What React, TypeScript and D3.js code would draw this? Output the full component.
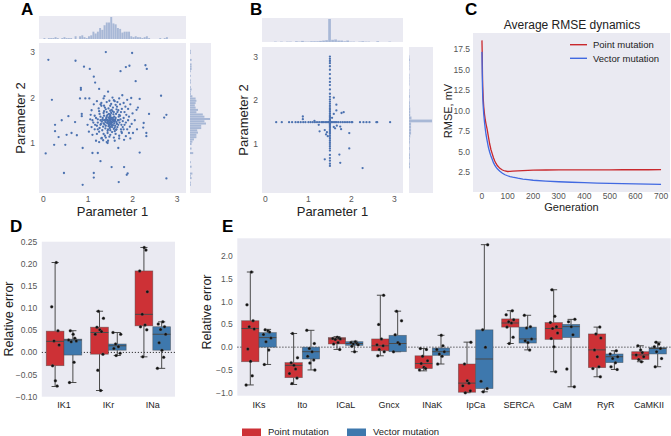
import React from 'react';
import * as d3 from 'd3';

const FONT = '"Liberation Sans", Arial, Helvetica, sans-serif';
const BG = '#EAEAF2';
const DOT = '#4c72b0';
const RED = '#cd3136';
const BLUE = '#3e78ad';
const EDGE = '#4a4a4a';
const TICK = '#555555';
const LBL = '#222222';
const LINE_RED = '#c9282d';
const LINE_BLUE = '#4169e1';

// ---------------- Panel A (vector mutation parameters) ----------------
const outliersA: [number, number][] = [
  [0.11, 2.83], [1.4, 3.0], [1.99, 2.98], [0.72, 2.81], [0.91, 2.68], [1.04, 2.63], [2.29, 2.71], [2.32, 2.63],
  [1.85, 2.67], [1.93, 2.7], [1.73, 2.58], [1.13, 2.46], [2.07, 2.36], [1.16, 2.33], [0.84, 2.21], [0.84, 2.17],
  [1.25, 2.19], [1.45, 2.13], [2.64, 2.04], [0.19, 1.95], [0.82, 1.98], [0.94, 1.98], [1.03, 1.98], [1.37, 2.03],
  [1.97, 1.99], [2.16, 1.97], [2.76, 1.62], [2.71, 1.56], [0.56, 1.59], [0.86, 1.64], [0.86, 1.59], [0.41, 1.5],
  [0.26, 1.4], [0.26, 1.26], [0.34, 1.13], [0.24, 0.96], [0.49, 0.96], [0.05, 0.77], [0.63, 1.22], [0.75, 1.17],
  [0.52, 1.18], [0.71, 1.46], [0.99, 1.4], [0.88, 0.89], [1.1, 0.78], [1.22, 0.78], [1.28, 0.6], [2.16, 0.79],
  [1.53, 0.47], [1.81, 0.47], [1.89, 0.33], [1.87, 0.3], [1.13, 0.34], [1.13, 0.24], [0.46, 0.34], [1.69, 0.14],
  [0.88, 0.08], [2.76, 0.22], [2.31, 1.22], [2.37, 1.64], [2.25, 1.44], [2.24, 1.34], [2.31, 1.15], [2.01, 1.22],
  [2.09, 1.73], [1.81, 1.07], [1.68, 0.89], [1.44, 1.0], [1.31, 1.11],
];
const coreA: [number, number][] = [
  [1.5, 1.5], [1.52, 1.47], [1.48, 1.53], [1.55, 1.45], [1.45, 1.49], [1.53, 1.56], [1.58, 1.51], [1.43, 1.44],
  [1.47, 1.41], [1.56, 1.39], [1.6, 1.47], [1.41, 1.55], [1.5, 1.6], [1.62, 1.55], [1.38, 1.5], [1.46, 1.37],
  [1.54, 1.35], [1.65, 1.42], [1.35, 1.43], [1.44, 1.62], [1.57, 1.63], [1.67, 1.5], [1.33, 1.55], [1.49, 1.33],
  [1.61, 1.38], [1.4, 1.38], [1.52, 1.66], [1.69, 1.58], [1.36, 1.6], [1.63, 1.64], [1.31, 1.47], [1.45, 1.3],
  [1.58, 1.31], [1.71, 1.45], [1.42, 1.68], [1.55, 1.7], [1.66, 1.35], [1.34, 1.36], [1.48, 1.45], [1.51, 1.42],
  [1.46, 1.56], [1.54, 1.52], [1.57, 1.48], [1.43, 1.51], [1.49, 1.58], [1.59, 1.43], [1.44, 1.46], [1.53, 1.39],
  [1.61, 1.52], [1.39, 1.46], [1.47, 1.49], [1.56, 1.55], [1.51, 1.53], [1.45, 1.43], [1.52, 1.44], [1.5, 1.46],
  [1.55, 1.5], [1.48, 1.39], [1.4, 1.52], [1.64, 1.46], [1.37, 1.41], [1.59, 1.58], [1.42, 1.59], [1.68, 1.4],
  [1.32, 1.51], [1.47, 1.64], [1.6, 1.34], [1.73, 1.52], [1.29, 1.42], [1.53, 1.73], [1.7, 1.62], [1.35, 1.66],
  [1.44, 1.27], [1.63, 1.29], [1.75, 1.4], [1.28, 1.58], [1.39, 1.32], [1.58, 1.68], [1.66, 1.68],
  [1.5, 1.36], [1.5, 1.62], [1.5, 1.44], [1.5, 1.71], [1.5, 1.28], [1.5, 1.55], [1.42, 1.5], [1.61, 1.5],
  [1.36, 1.5], [1.69, 1.5], [1.57, 1.5], [1.28, 1.5],
];
const haloA: [number, number][] = [
  [1.8, 1.55], [1.85, 1.45], [1.78, 1.35], [1.82, 1.68], [1.76, 1.75], [1.65, 1.8], [1.5, 1.82], [1.38, 1.78],
  [1.25, 1.7], [1.22, 1.52], [1.2, 1.38], [1.25, 1.25], [1.35, 1.2], [1.5, 1.18], [1.62, 1.2], [1.75, 1.25],
  [1.88, 1.3], [1.92, 1.58], [1.9, 1.75], [1.8, 1.88], [1.6, 1.92], [1.42, 1.9], [1.28, 1.85], [1.15, 1.6],
  [1.12, 1.45], [1.15, 1.3], [1.3, 1.1], [1.45, 1.05], [1.7, 1.1], [1.85, 1.15], [1.98, 1.42], [2.0, 1.65],
  [1.95, 1.85], [1.7, 1.98], [1.55, 2.0], [1.35, 1.98], [1.2, 1.92], [1.08, 1.72], [1.05, 1.52], [1.08, 1.35],
  [1.1, 1.18], [1.25, 1.02], [1.6, 1.05], [1.95, 1.1], [2.05, 1.5], [2.1, 1.3], [1.88, 1.95], [1.48, 1.93],
  [1.18, 1.05], [1.02, 1.25], [2.12, 1.78], [1.72, 1.85], [1.3, 1.82], [1.92, 1.22], [1.4, 1.12], [1.58, 1.12],
  [1.13, 1.85], [1.77, 2.05], [1.64, 1.74], [1.36, 1.7], [1.74, 1.3], [1.26, 1.33],
  [1.72, 1.6], [1.28, 1.4], [1.6, 1.26], [1.4, 1.74], [1.78, 1.48], [1.22, 1.45], [1.56, 1.78], [1.44, 1.22],
  [1.82, 1.4], [1.18, 1.55], [1.68, 1.72], [1.32, 1.28], [1.76, 1.22], [1.24, 1.76], [1.62, 1.84], [1.38, 1.16],
  [1.86, 1.62], [1.16, 1.4], [1.52, 1.86], [1.48, 1.14], [1.7, 1.16], [1.3, 1.88], [1.9, 1.5], [1.1, 1.5],
  [1.66, 1.9], [1.34, 1.06], [1.84, 1.8], [1.2, 1.2], [1.94, 1.36], [1.06, 1.62], [1.54, 1.24], [1.46, 1.76],
  [1.74, 1.68], [1.26, 1.64], [1.64, 1.3], [1.36, 1.82], [1.8, 1.3], [1.22, 1.3], [1.58, 1.94], [1.42, 1.02],
];

// ---------------- Panel B (point mutation parameters) ----------------
const offAxisB: [number, number][] = [
  [0.87, 1.57], [0.87, 1.63], [1.14, 1.53], [1.59, 2.06], [1.65, 1.9], [1.65, 1.77], [1.82, 1.73], [1.77, 1.71],
  [1.59, 1.69], [1.55, 1.6], [1.24, 1.44], [1.26, 1.29], [1.38, 1.32], [1.43, 1.27], [1.41, 1.22], [1.66, 1.42],
  [1.59, 1.39], [1.74, 1.4], [1.76, 1.34], [1.95, 1.25], [1.95, 0.9], [1.38, 0.65], [1.72, 0.76], [1.74, 0.57],
  [2.26, 0.45], [1.45, 1.18], [1.62, 1.36],
  [1.5, 1.5], [1.5, 1.5], [1.5, 1.5], [1.5, 1.5], [1.5, 1.5], [1.5, 1.5], [1.5, 1.5], [1.5, 1.5], [1.5, 1.5], [1.5, 1.5],
];
const horizXB = [
  0.25, 0.38, 0.55, 0.62, 0.7, 0.76, 0.82, 0.88, 0.93, 1.0, 1.05, 1.1, 1.15, 1.2, 1.25, 1.3, 1.33, 1.36, 1.4, 1.43,
  1.46, 1.48, 1.52, 1.54, 1.57, 1.6, 1.63, 1.66, 1.7, 1.75, 1.8, 1.85, 1.9, 1.95, 2.0, 2.02, 2.2, 2.28, 2.35, 2.42,
  2.58, 2.6, 2.9,
];
const vertYB = [
  3.0, 2.95, 2.9, 2.85, 2.78, 2.7, 2.6, 2.5, 2.42, 2.35, 2.25, 2.15, 2.08, 2.02, 1.97, 1.92, 1.87, 1.82, 1.78, 1.74,
  1.7, 1.66, 1.63, 1.6, 1.57, 1.55, 1.53, 1.47, 1.45, 1.43, 1.4, 1.37, 1.34, 1.3, 1.27, 1.24, 1.2, 1.16, 1.12, 1.08,
  1.04, 1.0, 0.95, 0.9, 0.85, 0.75, 0.68, 0.62, 0.55, 0.5,
];
const paramTicks = [0, 1, 2, 3];

// ---------------- Panel C (RMSE dynamics) ----------------
const generations = [0, 1, 2, 3, 5, 7, 10, 13, 16, 20, 25, 30, 35, 40, 45, 50, 55, 60, 70, 80, 90, 100, 110, 120, 140, 160, 180, 200, 250, 300, 350, 400, 450, 500, 550, 600, 650, 700];
const rmsePoint = [18.6, 17.0, 14.5, 13.0, 11.5, 10.5, 9.6, 8.9, 8.4, 7.8, 6.9, 6.0, 5.3, 4.8, 4.3, 3.9, 3.6, 3.35, 3.0, 2.8, 2.68, 2.62, 2.63, 2.66, 2.7, 2.73, 2.76, 2.78, 2.8, 2.81, 2.81, 2.82, 2.82, 2.82, 2.83, 2.83, 2.83, 2.84];
const rmseVector = [17.2, 15.0, 13.0, 11.8, 10.5, 9.6, 8.6, 7.8, 7.1, 6.4, 5.6, 5.0, 4.5, 4.1, 3.7, 3.4, 3.15, 2.95, 2.65, 2.4, 2.22, 2.1, 2.0, 1.92, 1.8, 1.7, 1.62, 1.55, 1.45, 1.37, 1.31, 1.26, 1.21, 1.17, 1.14, 1.11, 1.08, 1.06];
const rmseTicks = [2.5, 5, 7.5, 10, 12.5, 15, 17.5];
const genTicks = [0, 100, 200, 300, 400, 500, 600, 700];

// ---------------- Panel D ----------------
const catsD = ['IK1', 'IKr', 'INa'];
// [lower whisker, q1, median, q3, upper whisker]
const statsDPoint = [
  [-0.077, -0.03, 0.025, 0.048, 0.203],
  [-0.086, -0.004, 0.045, 0.057, 0.093],
  [-0.01, 0.06, 0.086, 0.184, 0.237],
];
const statsDVector = [
  [-0.068, -0.006, 0.028, 0.03, 0.049],
  [-0.007, 0.005, 0.015, 0.019, 0.045],
  [-0.036, 0.005, 0.041, 0.058, 0.069],
];
const ptsDPoint = [
  [0.203, 0.103, 0.049, 0.026, 0.017, -0.03, -0.064, -0.076],
  [0.093, 0.077, 0.057, 0.051, 0.047, 0.041, -0.004, -0.04, -0.086],
  [0.237, 0.231, 0.184, 0.137, 0.086, 0.062, 0.058, 0.051, -0.01],
];
const ptsDVector = [
  [0.049, 0.041, 0.032, 0.028, 0.026, 0.024, -0.022, -0.068],
  [0.045, 0.041, 0.019, 0.013, 0.009, -0.002, -0.007],
  [0.069, 0.064, 0.058, 0.052, 0.041, 0.022, 0.005, -0.011, -0.036],
];
const ticksD = [-0.1, -0.05, 0, 0.05, 0.1, 0.15, 0.2, 0.25];

// ---------------- Panel E ----------------
const catsE = ['IKs', 'Ito', 'ICaL', 'Gncx', 'INaK', 'IpCa', 'SERCA', 'CaM', 'RyR', 'CaMKII'];
const statsEPoint = [
  [-0.83, -0.32, 0.41, 0.58, 1.65],
  [-0.82, -0.67, -0.4, -0.34, 0.3],
  [-0.05, 0.07, 0.18, 0.21, 0.23],
  [-0.19, -0.08, 0.03, 0.18, 1.14],
  [-0.52, -0.47, -0.36, -0.19, -0.03],
  [-1.0, -0.99, -0.79, -0.37, 0.11],
  [0.08, 0.44, 0.53, 0.62, 0.8],
  [-0.54, 0.17, 0.41, 0.54, 1.26],
  [-0.65, -0.45, -0.06, 0.29, 0.44],
  [-0.32, -0.27, -0.17, -0.1, 0.03],
];
const statsEVector = [
  [-0.38, 0.0, 0.21, 0.32, 0.39],
  [-0.5, -0.26, -0.1, 0.0, 0.37],
  [-0.1, 0.04, 0.08, 0.12, 0.13],
  [-0.1, -0.1, 0.08, 0.26, 0.79],
  [-0.37, -0.18, -0.1, -0.02, 0.26],
  [-0.98, -0.91, -0.26, 0.38, 2.25],
  [-0.06, 0.09, 0.18, 0.44, 0.7],
  [-0.87, 0.21, 0.45, 0.5, 0.61],
  [-0.49, -0.34, -0.21, -0.15, -0.08],
  [-0.43, -0.15, -0.03, -0.01, 0.11],
];
const ptsEPoint = [
  [1.65, 0.93, 0.58, 0.45, 0.4, -0.04, -0.31, -0.63, -0.83],
  [0.3, -0.23, -0.34, -0.4, -0.48, -0.58, -0.68, -0.8],
  [0.22, 0.2, 0.19, 0.18, 0.17, 0.1, 0.07, -0.05],
  [1.14, 0.5, 0.18, 0.05, 0.03, -0.05, -0.1, -0.19],
  [-0.03, -0.05, -0.2, -0.3, -0.36, -0.44, -0.47, -0.5],
  [0.11, -0.37, -0.74, -0.79, -0.85, -0.96, -1.0],
  [0.8, 0.71, 0.6, 0.56, 0.53, 0.44, 0.22, 0.08],
  [1.26, 0.68, 0.54, 0.45, 0.41, 0.31, 0.19, 0.01, -0.54],
  [0.44, 0.29, 0.2, -0.06, -0.21, -0.43, -0.47, -0.65],
  [0.03, -0.06, -0.12, -0.17, -0.21, -0.27, -0.32],
];
const ptsEVector = [
  [0.38, 0.36, 0.33, 0.28, 0.2, 0.12, -0.06, -0.38],
  [0.37, 0.08, -0.03, -0.1, -0.2, -0.28, -0.35, -0.5],
  [0.12, 0.1, 0.08, 0.07, 0.05, 0.02, -0.1],
  [0.79, 0.58, 0.27, 0.1, 0.07, -0.1],
  [0.26, 0.03, -0.05, -0.1, -0.15, -0.2, -0.37],
  [2.25, 0.38, 0.0, -0.75, -0.91, -0.98],
  [0.7, 0.45, 0.42, 0.18, 0.14, 0.1, -0.06],
  [0.61, 0.56, 0.45, 0.27, -0.48, -0.87],
  [-0.08, -0.15, -0.21, -0.25, -0.34, -0.43, -0.49],
  [0.11, 0.07, 0.01, -0.03, -0.1, -0.25, -0.43],
];
const ticksE = [-1, -0.5, 0, 0.5, 1, 1.5, 2];
const legendLabels = ['Point mutation', 'Vector mutation'];

const JIT = [0.2, -0.6, 0.5, -0.2, 0.7, -0.45, 0.05, 0.35, -0.75, 0.6, -0.3];

type JointProps = {
  pts: [number, number][];
  L: number; R: number; T: number; B: number;
  topT: number; topB: number; rL: number; rR: number;
  xDom: [number, number]; yDom: [number, number]; step: number;
  letter: string; letterX: number;
};

function Joint(p: JointProps) {
  const x = d3.scaleLinear().domain(p.xDom).range([p.L, p.R]);
  const y = d3.scaleLinear().domain(p.yDom).range([p.B, p.T]);
  const bx = d3.bin().domain(p.xDom).thresholds(d3.range(p.xDom[0], p.xDom[1], p.step))(p.pts.map((d) => d[0]));
  const by = d3.bin().domain(p.yDom).thresholds(d3.range(p.yDom[0], p.yDom[1], p.step))(p.pts.map((d) => d[1]));
  const hx = d3.scaleLinear().domain([0, d3.max(bx, (b) => b.length) || 1]).range([p.topB, p.topT + 1]);
  const hy = d3.scaleLinear().domain([0, d3.max(by, (b) => b.length) || 1]).range([p.rL, p.rR - 1]);
  const cx = (p.L + p.R) / 2;
  const cy = (p.T + p.B) / 2;
  return (
    <g>
      <text x={p.letterX} y={15} fontSize={17} fontWeight="bold" fill="#000">{p.letter}</text>
      <rect x={p.L} y={p.topT} width={p.R - p.L} height={p.topB - p.topT} fill={BG} />
      <rect x={p.rL} y={p.T} width={p.rR - p.rL} height={p.B - p.T} fill={BG} />
      <rect x={p.L} y={p.T} width={p.R - p.L} height={p.B - p.T} fill={BG} />
      {bx.filter((b) => b.length > 0).map((b, i) => (
        <rect key={'bx' + i} x={x(b.x0!)} y={hx(b.length)} width={Math.max(0.5, x(b.x1!) - x(b.x0!) - 0.3)}
          height={p.topB - hx(b.length)} fill={DOT} fillOpacity={0.42} />
      ))}
      {by.filter((b) => b.length > 0).map((b, i) => (
        <rect key={'by' + i} x={p.rL} y={y(b.x1!)} height={Math.max(0.5, y(b.x0!) - y(b.x1!) - 0.3)}
          width={hy(b.length) - p.rL} fill={DOT} fillOpacity={0.42} />
      ))}
      {p.pts.map((d, i) => (
        <circle key={'p' + i} cx={x(d[0])} cy={y(d[1])} r={1.15} fill={DOT} />
      ))}
      {paramTicks.map((t) => (
        <text key={'xt' + t} x={x(t)} y={p.B + 8.5} fontSize={8.5} fill={TICK} textAnchor="middle">{t}</text>
      ))}
      {paramTicks.filter((t) => t > 0).map((t) => (
        <text key={'yt' + t} x={p.L - 4} y={y(t)} dy="0.35em" fontSize={8.5} fill={TICK} textAnchor="end">{t}</text>
      ))}
      <text x={cx} y={p.B + 23} fontSize={13} fill={LBL} textAnchor="middle">Parameter 1</text>
      <text transform={`translate(${p.L - 14},${cy}) rotate(-90)`} fontSize={13} fill={LBL} textAnchor="middle">Parameter 2</text>
    </g>
  );
}

function RmsePanel() {
  const L = 473, R = 670, T = 33, B = 192;
  const x = d3.scaleLinear().domain([-35, 735]).range([L, R]);
  const y = d3.scaleLinear().domain([0.12, 19.5]).range([B, T]);
  const line = d3.line<number>().x((_, i) => x(generations[i])).y((v) => y(v));
  const fmt = d3.format('.1f');
  return (
    <g>
      <text x={465} y={15} fontSize={17} fontWeight="bold" fill="#000">C</text>
      <text x={572} y={28.5} fontSize={12} fill={LBL} textAnchor="middle">Average RMSE dynamics</text>
      <rect x={L} y={T} width={R - L} height={B - T} fill={BG} />
      <path d={line(rmsePoint) || ''} fill="none" stroke={LINE_RED} strokeWidth={1.3} />
      <path d={line(rmseVector) || ''} fill="none" stroke={LINE_BLUE} strokeWidth={1.3} />
      {rmseTicks.map((t) => (
        <text key={'y' + t} x={L - 3} y={y(t)} dy="0.35em" fontSize={8.5} fill={TICK} textAnchor="end">{fmt(t)}</text>
      ))}
      {genTicks.map((t) => (
        <text key={'x' + t} x={x(t)} y={B + 7} fontSize={8.5} fill={TICK} textAnchor="middle">{t}</text>
      ))}
      <text x={(L + R) / 2} y={211} fontSize={11} fill={LBL} textAnchor="middle">Generation</text>
      <text transform={`translate(448,111) rotate(-90)`} dy="0.35em" fontSize={11} fill={LBL} textAnchor="middle">RMSE, mV</text>
      <line x1={570} x2={587} y1={44.7} y2={44.7} stroke={LINE_RED} strokeWidth={1.4} />
      <line x1={570} x2={587} y1={58.3} y2={58.3} stroke={LINE_BLUE} strokeWidth={1.4} />
      <text x={593} y={44.7} dy="0.35em" fontSize={9.5} fill={LBL}>{legendLabels[0]}</text>
      <text x={593} y={58.3} dy="0.35em" fontSize={9.5} fill={LBL}>{legendLabels[1]}</text>
    </g>
  );
}

type BoxProps = {
  cats: string[];
  stats: number[][][];
  pts: number[][][];
  L: number; R: number; T: number; B: number;
  yDom: [number, number];
  ticks: number[];
  fmt: string;
  labelX: number;
  labelY: number;
  letter: string; letterX: number;
};

function BoxPanel(p: BoxProps) {
  const x = d3.scaleBand<string>().domain(p.cats).range([p.L, p.R]).padding(0);
  const y = d3.scaleLinear().domain(p.yDom).range([p.B, p.T]);
  const w = x.bandwidth();
  const bw = w * 0.4;
  const f = d3.format(p.fmt);
  const colors = [RED, BLUE];
  return (
    <g>
      <text x={p.letterX} y={231.5} fontSize={17} fontWeight="bold" fill="#000">{p.letter}</text>
      <rect x={p.L} y={p.T} width={p.R - p.L} height={p.B - p.T} fill={BG} />
      <line x1={p.L} x2={p.R} y1={y(0)} y2={y(0)} stroke="#222" strokeWidth={0.9} strokeDasharray="1.2,1.8" />
      {p.cats.map((c, i) => (
        <g key={c}>
          {[0, 1].map((j) => {
            const [lo, q1, med, q3, hi] = p.stats[j][i];
            const x0 = (x(c) as number) + w * 0.1 + j * bw;
            const cxm = x0 + bw / 2;
            const capW = bw * 0.4;
            return (
              <g key={j}>
                <line x1={cxm} x2={cxm} y1={y(q3)} y2={y(hi)} stroke={EDGE} strokeWidth={1} />
                <line x1={cxm} x2={cxm} y1={y(q1)} y2={y(lo)} stroke={EDGE} strokeWidth={1} />
                <line x1={cxm - capW / 2} x2={cxm + capW / 2} y1={y(hi)} y2={y(hi)} stroke={EDGE} strokeWidth={1} />
                <line x1={cxm - capW / 2} x2={cxm + capW / 2} y1={y(lo)} y2={y(lo)} stroke={EDGE} strokeWidth={1} />
                <rect x={x0} y={y(q3)} width={bw} height={Math.max(0.5, y(q1) - y(q3))} fill={colors[j]}
                  stroke={EDGE} strokeWidth={0.7} strokeOpacity={0.6} />
                <line x1={x0} x2={x0 + bw} y1={y(med)} y2={y(med)} stroke={EDGE} strokeWidth={1} />
                {p.pts[j][i].map((v, k) => (
                  <circle key={k} cx={cxm + JIT[(k + i * 3 + j * 5) % JIT.length] * bw * 0.32} cy={y(v)} r={1.5}
                    fill="#111" stroke="#777" strokeWidth={0.3} />
                ))}
              </g>
            );
          })}
          <text x={(x(c) as number) + w / 2} y={407.5} fontSize={9} fill={LBL} textAnchor="middle">{c}</text>
        </g>
      ))}
      {p.ticks.map((t) => (
        <text key={'t' + t} x={p.L - 4.5} y={y(t)} dy="0.35em" fontSize={8.5} fill={TICK} textAnchor="end">{f(t)}</text>
      ))}
      <text transform={`translate(${p.labelX},${p.labelY}) rotate(-90)`} dy="0.35em" fontSize={12.5} fill={LBL} textAnchor="middle">Relative error</text>
    </g>
  );
}

export default function App() {
  const ptsA = [...outliersA, ...coreA, ...haloA];
  const ptsB: [number, number][] = [
    ...offAxisB,
    ...horizXB.map((v) => [v, 1.5] as [number, number]),
    ...vertYB.map((v) => [1.5, v] as [number, number]),
  ];
  return (
    <svg width={671} height={436} viewBox="0 0 671 436" fontFamily={FONT}
      style={{ position: 'absolute', left: 0, top: 0, background: '#fff' }}>
      <rect width={671} height={436} fill="#fff" />
      <Joint pts={ptsA} L={39} R={186} T={43} B={193} topT={16} topB={39} rL={190} rR={211}
        xDom={[-0.1, 3.2]} yDom={[-0.1, 3.2]} step={0.05} letter="A" letterX={21} />
      <Joint pts={ptsB} L={262} R={403} T={47} B={193} topT={18} topB={42} rL={409} rR={433}
        xDom={[-0.08, 3.2]} yDom={[-0.12, 3.22]} step={0.07} letter="B" letterX={250} />
      <RmsePanel />
      <BoxPanel cats={catsD} stats={[statsDPoint, statsDVector]} pts={[ptsDPoint, ptsDVector]}
        L={41.8} R={175} T={241.7} B={396.7} yDom={[-0.1, 0.25]} ticks={ticksD} fmt=".2f"
        labelX={8.5} labelY={319} letter="D" letterX={10} />
      <BoxPanel cats={catsE} stats={[statsEPoint, statsEVector]} pts={[ptsEPoint, ptsEVector]}
        L={237.3} R={670.7} T={238.3} B={395.7} yDom={[-1.066, 2.39]} ticks={ticksE} fmt=".1f"
        labelX={206.5} labelY={312} letter="E" letterX={222} />
      <rect x={242} y={428.5} width={19} height={7.5} fill={RED} />
      <text x={268} y={435} fontSize={9.5} fill={LBL}>{legendLabels[0]}</text>
      <rect x={347} y={428.5} width={19} height={7.5} fill={BLUE} />
      <text x={373} y={435} fontSize={9.5} fill={LBL}>{legendLabels[1]}</text>
    </svg>
  );
}
